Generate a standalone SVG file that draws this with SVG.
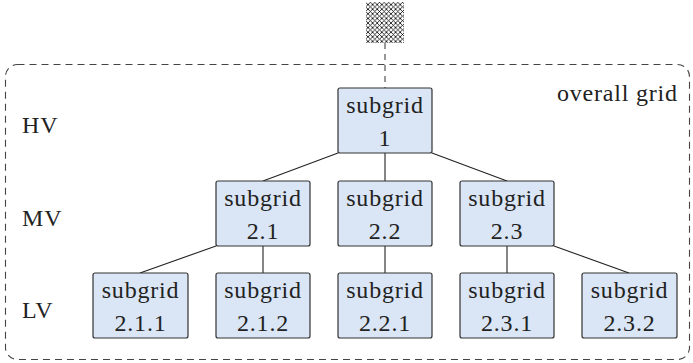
<svg xmlns="http://www.w3.org/2000/svg" width="693" height="363" viewBox="0 0 693 363">
<style>
.node rect{fill:#dae6f5;stroke:#333;stroke-width:1.2}
text{font-size:24px;letter-spacing:0.8px;fill:#222}
.c{text-anchor:middle}
.conn line{stroke:#222;stroke-width:1.1}
</style>
<defs>
<pattern id="hatch" width="4.6" height="4.6" patternUnits="userSpaceOnUse">
<path d="M0,0 L4.6,4.6 M4.6,0 L0,4.6" stroke="#000" stroke-width="0.8"/>
</pattern>
</defs>
<rect x="5.5" y="64.5" width="684" height="295" rx="12" fill="none" stroke="#444" stroke-width="1.1" stroke-dasharray="7,5"/>
<rect x="366" y="2" width="38" height="41" fill="url(#hatch)"/>
<g class="conn">
<line x1="385" y1="43" x2="385" y2="88" stroke-dasharray="6,5" style="stroke:#444"/>
<line x1="338" y1="153" x2="263" y2="181"/>
<line x1="385" y1="153" x2="385" y2="181"/>
<line x1="432" y1="153" x2="507" y2="181"/>
<line x1="216" y1="246" x2="140" y2="273"/>
<line x1="263" y1="246" x2="263" y2="273"/>
<line x1="385" y1="246" x2="385" y2="273"/>
<line x1="507" y1="246" x2="507" y2="273"/>
<line x1="554" y1="246" x2="629" y2="273"/>
</g>
<g font-family="Liberation Serif, serif">
<text x="22" y="133">HV</text>
<text x="22" y="226">MV</text>
<text x="22" y="318">LV</text>
<text x="557" y="101">overall grid</text>
<g id="n1" class="node"><rect x="338" y="88" width="94" height="65" rx="2"/><text class="c" x="385" y="112.5">subgrid</text><text class="c" x="385" y="146">1</text></g>
<g id="n21" class="node"><rect x="216" y="181" width="94" height="65" rx="2"/><text class="c" x="263" y="205.5">subgrid</text><text class="c" x="263" y="239">2.1</text></g>
<g id="n22" class="node"><rect x="338" y="181" width="94" height="65" rx="2"/><text class="c" x="385" y="205.5">subgrid</text><text class="c" x="385" y="239">2.2</text></g>
<g id="n23" class="node"><rect x="460" y="181" width="94" height="65" rx="2"/><text class="c" x="507" y="205.5">subgrid</text><text class="c" x="507" y="239">2.3</text></g>
<g id="n211" class="node"><rect x="93" y="273" width="95" height="65" rx="2"/><text class="c" x="140.5" y="297.5">subgrid</text><text class="c" x="140.5" y="331">2.1.1</text></g>
<g id="n212" class="node"><rect x="216" y="273" width="94" height="65" rx="2"/><text class="c" x="263" y="297.5">subgrid</text><text class="c" x="263" y="331">2.1.2</text></g>
<g id="n221" class="node"><rect x="338" y="273" width="94" height="65" rx="2"/><text class="c" x="385" y="297.5">subgrid</text><text class="c" x="385" y="331">2.2.1</text></g>
<g id="n231" class="node"><rect x="460" y="273" width="94" height="65" rx="2"/><text class="c" x="507" y="297.5">subgrid</text><text class="c" x="507" y="331">2.3.1</text></g>
<g id="n232" class="node"><rect x="582" y="273" width="95" height="65" rx="2"/><text class="c" x="629.5" y="297.5">subgrid</text><text class="c" x="629.5" y="331">2.3.2</text></g>
</g>
</svg>
